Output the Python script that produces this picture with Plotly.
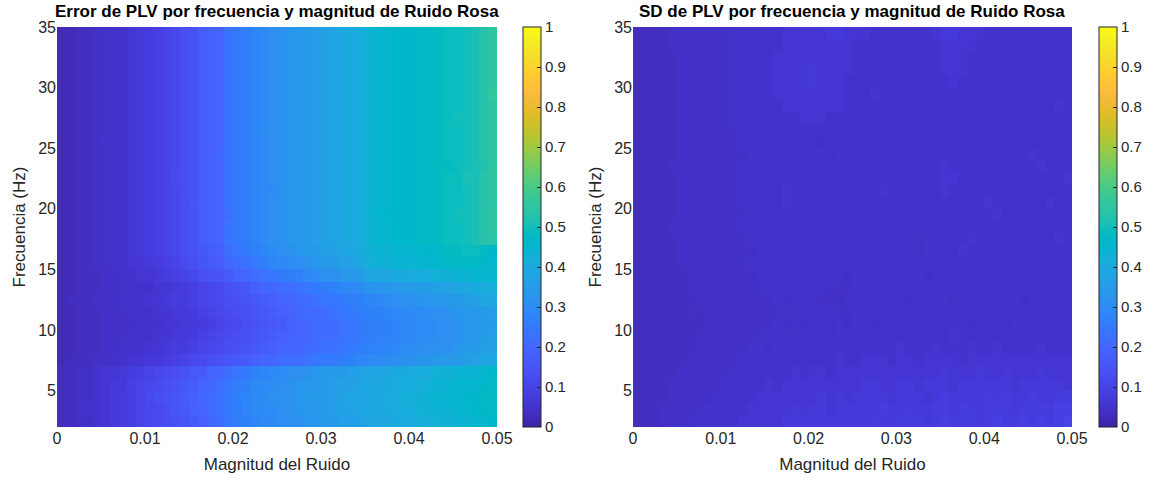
import plotly.graph_objects as go

# ---------------- data ----------------
noise_edges = [round(i * 0.001, 3) for i in range(51)]      # Magnitud del Ruido (cell edges)
freq_edges = list(range(2, 36))                              # Frecuencia (Hz) (cell edges)
x_tick_vals = [0, 0.01, 0.02, 0.03, 0.04, 0.05]
x_tick_text = ["0", "0.01", "0.02", "0.03", "0.04", "0.05"]
y_tick_vals = [5, 10, 15, 20, 25, 30, 35]
cb_tick_vals = [0, 0.1, 0.2, 0.3, 0.4, 0.5, 0.6, 0.7, 0.8, 0.9, 1]
cb_tick_text = ["0", "0.1", "0.2", "0.3", "0.4", "0.5", "0.6", "0.7", "0.8", "0.9", "1"]

# Error de PLV (x100), rows from 2 Hz (bottom) to 34 Hz (top), 50 noise columns each
error_pct = [
    [3,3,4,4,5,6,7,8,9,10, 11,12,13,14,15,17,18,20,22,24, 26,27,28,29,30,31,31,32,33,33, 34,35,36,36,37,38,39,39,40,41, 41,42,42,43,43,44,44,45,45,46],
    [3,3,4,5,5,6,7,8,9,10, 11,12,13,15,16,18,19,21,23,25, 26,28,29,30,30,31,32,33,33,34, 35,36,37,37,38,39,40,40,41,41, 42,43,43,44,44,45,45,46,46,47],
    [3,3,4,4,5,6,7,8,9,10, 12,13,14,15,17,18,20,21,23,25, 27,28,29,30,31,32,32,33,34,35, 35,36,37,38,38,39,40,41,41,42, 42,43,44,44,45,45,46,46,47,47],
    [3,3,4,4,5,6,7,7,9,10, 11,12,13,14,16,17,19,20,22,24, 26,27,29,30,30,31,32,33,33,34, 35,36,36,37,38,39,39,40,41,41, 42,42,43,44,44,45,45,45,46,47],
    [3,3,4,4,5,6,6,7,8,9, 10,11,12,13,14,16,17,19,20,22, 24,25,27,28,29,30,31,31,32,33, 34,35,35,36,37,38,38,39,40,40, 41,41,42,43,43,44,44,44,45,46],
    [2,3,3,3,4,4,5,5,6,6, 7,7,8,9,10,11,12,13,14,15, 16,17,18,19,20,21,22,22,23,24, 25,25,26,27,28,29,30,30,31,32, 32,33,33,34,34,35,36,37,38,39],
    [2,2,3,3,3,4,4,5,5,5, 6,6,7,8,8,9,10,11,12,13, 14,15,16,17,18,19,20,20,21,22, 23,23,24,25,26,27,28,28,29,30, 30,31,31,32,32,33,34,35,36,37],
    [2,2,3,3,3,4,4,4,5,5, 5,6,6,7,7,8,9,10,11,12, 13,14,15,16,17,18,19,19,20,21, 22,22,23,24,25,26,27,27,28,29, 29,30,30,31,31,32,33,34,35,36],
    [2,2,3,3,3,4,4,4,4,5, 5,5,6,6,7,7,8,9,10,11, 12,13,14,15,16,17,18,19,20,21, 21,22,23,24,25,26,27,27,28,29, 29,30,30,31,31,32,33,34,35,35],
    [2,2,3,3,3,4,4,4,5,5, 5,6,6,7,7,8,9,10,11,12, 13,14,15,16,17,18,19,20,21,21, 22,23,24,25,26,27,27,28,29,29, 30,30,31,31,32,33,34,34,35,36],
    [2,3,3,3,4,4,4,5,5,5, 6,6,7,8,8,9,10,11,12,13, 14,15,16,17,18,19,20,21,22,23, 24,24,25,26,27,28,29,30,31,32, 32,33,33,34,34,35,36,37,38,39],
    [2,2,3,3,3,4,4,4,5,5, 5,6,6,7,8,9,10,11,12,14, 15,16,18,19,20,21,22,23,24,25, 26,27,28,29,30,32,33,33,34,34, 35,35,36,37,37,38,39,40,41,42],
    [2,2,3,3,3,4,4,5,5,6, 6,7,8,9,10,11,13,14,15,17, 19,20,22,23,24,25,26,27,29,30, 31,32,33,34,35,38,39,39,40,40, 41,41,42,43,43,44,44,45,45,45],
    [2,2,3,3,4,4,5,5,6,6, 7,8,9,10,12,13,15,16,17,20, 22,23,25,26,28,29,30,31,32,33, 34,35,36,37,38,42,43,43,44,44, 44,45,45,46,47,47,47,47,46,45],
    [2,2,3,3,4,4,5,5,6,7, 8,9,10,11,13,14,16,17,18,22, 24,25,27,28,30,31,32,33,34,35, 36,37,38,39,40,43,44,44,45,45, 45,46,46,47,48,48,49,49,47,46],
    [2,2,3,3,4,4,5,5,6,7, 8,9,10,11,13,14,17,18,19,23, 25,26,28,29,31,32,33,34,35,36, 37,38,39,40,41,44,45,45,46,46, 46,47,47,48,49,49,50,51,53,54],
    [2,2,3,3,4,4,5,5,6,7, 8,9,10,11,13,14,17,18,19,23, 25,26,28,29,31,32,33,34,35,36, 37,38,39,40,41,44,45,45,46,46, 46,47,47,48,49,49,50,51,53,55],
    [2,2,3,3,4,4,5,5,6,7, 8,9,10,11,13,14,17,18,19,22, 25,26,28,29,31,32,33,34,35,36, 37,38,39,40,41,44,45,46,46,46, 46,47,47,48,49,50,50,51,53,55],
    [2,2,3,3,4,4,5,5,6,7, 8,9,10,11,13,15,17,18,19,23, 25,26,28,29,31,32,33,34,35,36, 37,38,39,40,41,44,45,45,46,46, 46,47,47,48,49,49,50,51,53,54],
    [2,2,3,3,4,4,5,5,6,7, 8,9,10,11,13,14,17,18,19,23, 25,26,28,29,30,32,33,34,35,36, 37,38,39,40,41,44,45,45,46,46, 46,47,47,48,49,49,50,51,53,55],
    [2,2,3,3,4,4,5,5,6,7, 8,9,10,12,13,14,17,18,19,23, 25,26,28,29,31,32,33,34,35,36, 37,38,39,40,41,44,45,45,46,46, 46,47,47,48,49,49,51,51,53,55],
    [2,2,3,3,4,4,5,5,6,7, 8,9,10,11,13,14,17,18,19,23, 25,26,28,29,31,32,33,34,35,36, 37,38,39,40,41,44,45,45,46,46, 46,47,47,48,48,49,50,51,52,55],
    [2,2,3,3,4,4,5,5,6,7, 8,9,10,11,13,14,17,18,20,23, 25,26,28,29,31,32,33,34,35,36, 37,38,39,40,41,44,45,45,46,46, 46,47,47,48,49,49,50,51,53,55],
    [2,2,3,3,4,5,5,5,6,7, 8,9,10,11,13,14,17,18,19,23, 25,26,28,29,31,32,33,34,35,36, 37,38,39,40,41,44,45,45,46,46, 46,47,47,48,49,49,50,51,53,55],
    [2,2,3,3,4,4,5,5,6,7, 8,9,10,11,13,14,17,18,19,23, 25,26,28,30,31,32,33,34,35,36, 37,38,39,40,41,44,45,45,46,46, 46,47,47,48,49,49,50,51,53,55],
    [2,2,3,3,4,4,5,5,6,7, 8,9,10,11,13,14,17,18,19,23, 25,26,28,29,31,32,33,34,35,36, 37,38,39,40,41,44,45,45,46,46, 46,47,47,48,49,50,50,51,53,55],
    [2,2,3,3,4,4,5,5,6,7, 8,9,10,11,13,14,17,18,19,23, 25,26,28,29,31,32,33,34,35,36, 37,38,39,40,41,44,45,45,46,46, 46,47,47,48,49,49,50,51,53,55],
    [2,2,3,3,4,4,5,5,6,7, 8,9,10,11,13,14,17,18,19,23, 25,26,28,29,31,32,33,34,35,36, 37,38,39,40,41,44,45,45,46,46, 46,47,47,48,49,49,50,51,53,56],
    [2,2,3,3,4,4,5,5,6,7, 8,9,10,11,13,14,17,18,19,23, 25,26,28,29,31,32,33,34,35,36, 37,38,39,40,41,44,45,45,46,46, 46,47,47,48,49,49,50,51,53,55],
    [2,2,3,3,4,4,5,5,6,7, 8,9,10,11,13,14,17,18,19,23, 25,26,28,29,31,32,33,34,35,36, 37,38,39,40,41,44,45,45,46,46, 46,47,47,48,49,49,50,51,53,55],
    [2,2,3,3,4,4,5,5,6,7, 8,9,10,11,13,14,17,18,19,23, 25,26,28,29,31,32,33,34,35,36, 37,38,39,40,41,44,45,45,46,46, 46,47,47,48,49,49,50,51,53,55],
    [2,2,3,3,4,4,5,5,6,7, 8,9,10,11,13,14,17,18,19,23, 25,26,28,29,31,32,33,34,35,36, 37,38,39,40,41,44,45,45,46,46, 46,47,47,48,49,49,50,51,53,55],
    [2,2,3,3,4,4,5,5,6,7, 8,9,10,11,13,14,17,18,19,23, 25,26,28,29,31,32,33,34,35,36, 37,38,39,40,41,44,45,45,46,46, 46,47,47,48,49,49,50,51,53,55],
]

# SD de PLV (x100), rows from 2 Hz (bottom) to 34 Hz (top)
sd_pct = [
    [3,3,3,4,4,4,4,5,5,5, 5,5,6,6,6,6,6,7,7,7, 7,7,7,7,7,7,7,8,7,7, 8,8,8,7,8,9,8,8,8,7, 8,9,8,8,9,8,9,8,9,10],
    [3,3,3,4,4,4,4,4,5,5, 5,5,5,6,6,6,6,6,7,6, 7,7,6,7,7,7,7,7,8,7, 7,8,7,7,8,8,7,8,8,7, 8,8,8,7,8,8,8,8,9,9],
    [3,3,3,3,4,4,4,4,4,5, 5,5,5,5,6,6,6,6,6,6, 6,7,6,7,6,7,7,7,7,6, 7,7,7,6,7,8,7,7,7,7, 8,7,8,7,7,8,7,7,8,8],
    [3,3,3,3,4,4,4,4,4,4, 5,5,5,5,5,6,5,6,6,6, 6,6,6,6,6,6,7,7,6,6, 7,7,6,7,7,7,6,7,7,7, 7,7,7,6,7,7,7,7,7,6],
    [3,3,3,3,3,4,4,4,4,4, 4,5,5,5,5,5,5,5,6,5, 6,6,5,6,6,6,6,6,6,6, 6,6,6,6,6,7,6,6,6,7, 6,6,7,6,6,6,7,6,6,6],
    [3,3,3,3,3,3,4,4,4,4, 4,4,5,5,5,5,5,5,5,5, 5,5,5,6,5,5,6,6,6,5, 6,6,5,6,6,6,6,5,6,6, 6,6,6,6,6,6,6,6,6,6],
    [3,3,3,3,3,3,3,4,4,4, 4,4,4,5,5,4,5,5,5,5, 5,5,5,5,5,5,5,5,5,5, 6,5,5,5,6,5,5,5,6,5, 5,6,5,5,5,5,6,5,5,5],
    [3,3,3,3,3,3,3,4,4,4, 4,4,4,4,4,5,5,5,4,5, 5,5,4,5,5,5,5,5,5,5, 5,5,5,5,5,5,6,5,5,5, 5,5,5,5,5,5,5,5,5,5],
    [3,3,3,3,3,3,3,3,4,4, 4,4,4,4,4,4,5,4,5,4, 5,5,4,5,4,5,5,4,5,5, 5,5,5,5,5,5,5,5,4,5, 5,5,4,5,5,5,5,5,5,5],
    [3,3,3,3,3,3,4,3,4,4, 4,4,4,4,4,4,4,5,4,5, 4,5,5,4,4,5,5,5,5,4, 5,5,5,4,5,5,5,5,5,5, 4,5,5,4,5,5,5,5,5,5],
    [3,3,3,3,3,3,3,4,4,4, 4,4,4,4,4,4,5,4,5,5, 5,4,4,4,5,5,5,5,5,5, 5,4,5,5,5,5,4,5,5,5, 5,5,5,5,4,5,5,5,5,5],
    [3,3,3,3,3,3,4,4,4,4, 4,4,4,4,4,5,4,5,5,5, 5,5,4,4,4,5,5,5,5,5, 5,5,4,5,5,5,5,5,5,5, 5,5,5,5,5,5,5,5,5,5],
    [3,3,3,3,3,3,4,4,4,4, 4,4,4,4,5,5,5,5,5,5, 5,5,5,5,4,5,5,5,5,5, 5,5,5,4,5,5,5,5,5,5, 5,5,5,5,5,5,5,5,5,5],
    [3,3,3,3,3,4,4,4,4,4, 4,4,4,5,5,5,5,5,5,5, 5,5,5,5,5,5,5,5,5,5, 5,5,5,5,5,5,5,5,5,5, 5,5,5,4,5,5,5,5,5,5],
    [3,3,3,3,3,4,4,4,4,4, 4,4,4,4,5,5,5,5,5,5, 5,5,5,5,5,5,5,5,5,5, 5,5,4,5,5,5,5,6,5,5, 5,5,5,5,5,5,5,5,5,5],
    [3,3,3,3,3,4,4,4,4,4, 4,4,4,5,5,5,5,5,5,5, 5,5,5,5,5,5,5,5,5,5, 5,5,4,5,5,5,5,5,6,5, 5,5,5,5,5,5,5,5,6,5],
    [3,3,3,3,4,4,4,4,4,4, 4,4,5,5,5,5,5,5,5,5, 5,5,5,5,5,5,5,5,5,5, 5,5,5,5,5,5,5,5,5,5, 5,5,5,5,5,5,5,5,5,5],
    [3,3,3,3,3,4,4,4,4,4, 4,4,4,5,5,5,5,5,5,5, 5,5,5,5,5,5,5,5,5,5, 5,5,5,5,5,5,5,5,5,5, 5,6,5,5,5,5,5,5,5,5],
    [3,3,3,3,3,4,4,4,4,4, 4,4,5,5,5,5,5,6,5,5, 5,5,5,5,5,5,5,5,5,5, 5,5,5,5,5,5,5,5,5,5, 6,5,5,5,5,5,5,6,5,5],
    [3,3,3,3,3,4,4,4,4,4, 4,4,5,5,5,5,5,6,5,5, 5,5,5,5,5,5,5,5,6,5, 5,5,5,5,5,6,5,5,5,5, 5,5,5,5,5,5,5,5,5,5],
    [3,3,3,3,3,4,4,4,4,4, 4,4,5,5,5,5,5,5,5,5, 5,5,5,5,5,5,5,5,5,5, 5,5,5,5,5,6,6,5,5,5, 5,5,5,5,5,5,5,5,5,6],
    [3,3,3,3,4,4,4,4,4,4, 4,4,5,5,5,5,5,5,5,5, 5,5,5,5,5,5,5,5,5,5, 5,5,5,5,5,6,5,5,5,5, 5,5,5,5,5,5,6,5,5,5],
    [3,3,3,3,3,4,4,4,4,4, 4,4,4,5,5,5,5,5,5,5, 5,5,4,5,5,5,5,5,5,5, 5,5,5,5,5,5,5,5,5,5, 5,5,5,5,5,6,5,5,5,5],
    [3,3,3,3,3,4,4,4,4,4, 4,4,5,5,5,5,5,5,5,5, 5,4,5,5,5,5,5,5,5,5, 5,5,5,5,5,5,5,5,5,5, 5,5,5,5,5,5,5,5,5,5],
    [3,3,3,3,3,4,4,4,4,4, 4,4,5,5,5,5,5,5,5,5, 5,5,5,5,5,5,5,5,5,5, 5,5,5,5,5,5,5,5,5,5, 5,5,5,5,5,5,5,5,5,5],
    [3,3,3,3,3,4,4,4,4,4, 4,5,5,5,5,5,5,5,5,6, 6,6,5,5,5,5,5,5,5,5, 5,5,5,5,5,5,5,5,5,5, 5,5,5,5,5,5,5,5,5,5],
    [3,3,3,3,3,4,4,4,4,4, 4,5,5,5,5,5,5,6,6,6, 6,6,6,6,5,5,5,5,5,5, 5,5,5,5,5,5,5,5,5,5, 5,5,5,5,5,5,5,5,6,5],
    [3,3,3,3,3,4,4,4,4,4, 4,5,5,5,5,5,6,6,6,6, 6,6,6,6,5,5,5,6,5,5, 5,5,5,5,5,5,5,5,5,5, 5,5,5,5,5,5,5,5,5,5],
    [3,3,3,3,3,4,4,4,4,4, 4,5,5,5,5,5,6,6,6,6, 7,6,6,6,5,5,5,5,5,5, 5,5,5,5,5,5,6,5,5,5, 5,5,5,5,5,5,5,5,5,5],
    [3,3,3,3,3,4,4,4,4,4, 4,5,5,5,5,5,6,6,6,6, 7,6,6,6,6,5,5,5,5,5, 5,5,5,5,5,6,6,6,5,5, 5,5,5,5,5,5,5,5,5,5],
    [3,3,3,3,3,4,4,4,4,4, 4,5,5,5,5,5,6,6,6,6, 6,6,6,6,6,5,5,5,5,5, 5,5,5,5,5,6,6,6,5,5, 5,5,5,5,5,5,5,5,5,5],
    [3,3,3,3,4,4,4,4,4,4, 4,5,5,5,5,5,5,6,6,6, 6,6,6,6,6,5,5,5,5,5, 5,5,5,5,5,6,6,6,6,5, 5,5,5,5,5,5,5,5,5,5],
    [3,3,3,3,4,4,4,4,4,4, 4,5,5,5,5,5,5,6,6,6, 6,6,7,7,6,6,6,5,5,5, 5,5,5,5,6,7,7,6,6,6, 5,5,5,5,5,5,5,5,5,5],
]

titles = ["Error de PLV por frecuencia y magnitud de Ruido Rosa",
          "SD de PLV por frecuencia y magnitud de Ruido Rosa"]
x_title = "Magnitud del Ruido"
y_title = "Frecuencia (Hz)"

# ---------------- colormap (parula) ----------------
parula_rgb = [
    (0.2422, 0.1504, 0.6603), (0.2504, 0.1650, 0.7076), (0.2578, 0.1818, 0.7511), (0.2647, 0.1978, 0.7952),
    (0.2706, 0.2147, 0.8364), (0.2751, 0.2342, 0.8710), (0.2783, 0.2559, 0.8991), (0.2803, 0.2782, 0.9221),
    (0.2813, 0.3006, 0.9414), (0.2810, 0.3228, 0.9579), (0.2795, 0.3447, 0.9717), (0.2760, 0.3667, 0.9829),
    (0.2699, 0.3892, 0.9906), (0.2602, 0.4123, 0.9952), (0.2440, 0.4358, 0.9988), (0.2206, 0.4603, 0.9973),
    (0.1963, 0.4847, 0.9892), (0.1834, 0.5074, 0.9798), (0.1786, 0.5289, 0.9682), (0.1764, 0.5499, 0.9520),
    (0.1687, 0.5703, 0.9359), (0.1540, 0.5902, 0.9218), (0.1460, 0.6091, 0.9079), (0.1380, 0.6276, 0.8973),
    (0.1248, 0.6459, 0.8883), (0.1113, 0.6635, 0.8763), (0.0952, 0.6798, 0.8598), (0.0689, 0.6948, 0.8394),
    (0.0297, 0.7082, 0.8163), (0.0036, 0.7203, 0.7917), (0.0067, 0.7312, 0.7660), (0.0433, 0.7411, 0.7394),
    (0.0964, 0.7500, 0.7120), (0.1408, 0.7584, 0.6842), (0.1717, 0.7670, 0.6554), (0.1938, 0.7758, 0.6251),
    (0.2161, 0.7843, 0.5923), (0.2470, 0.7918, 0.5567), (0.2906, 0.7973, 0.5188), (0.3406, 0.8008, 0.4789),
    (0.3909, 0.8029, 0.4354), (0.4456, 0.8024, 0.3909), (0.5044, 0.7993, 0.3480), (0.5616, 0.7942, 0.3045),
    (0.6174, 0.7876, 0.2612), (0.6720, 0.7793, 0.2227), (0.7242, 0.7698, 0.1910), (0.7738, 0.7598, 0.1646),
    (0.8203, 0.7498, 0.1535), (0.8634, 0.7406, 0.1596), (0.9035, 0.7330, 0.1774), (0.9393, 0.7288, 0.2100),
    (0.9728, 0.7298, 0.2394), (0.9956, 0.7434, 0.2371), (0.9970, 0.7659, 0.2199), (0.9952, 0.7893, 0.2028),
    (0.9892, 0.8136, 0.1885), (0.9786, 0.8386, 0.1766), (0.9676, 0.8639, 0.1643), (0.9610, 0.8890, 0.1537),
    (0.9597, 0.9135, 0.1423), (0.9628, 0.9373, 0.1265), (0.9691, 0.9606, 0.1064), (0.9769, 0.9839, 0.0805),
]
n = len(parula_rgb)
parula = [[i / (n - 1), "rgb(%d,%d,%d)" % (round(r * 255), round(g * 255), round(b * 255))]
          for i, (r, g, b) in enumerate(parula_rgb)]

FONT = "Liberation Sans, Arial, Helvetica, sans-serif"
TXT = "#262626"
W, H = 1156, 478

# pixel geometry
plots = [(57, 497, 523), (633, 1072, 1099)]   # (left, right, colorbar-left) in px
top_px, bot_px = 27, 427
y0 = 1 - bot_px / H
y1 = 1 - top_px / H

fig = go.Figure()
layout = dict(width=W, height=H, margin=dict(l=0, r=0, t=0, b=0, autoexpand=False),
              paper_bgcolor="white", plot_bgcolor="white", showlegend=False,
              font=dict(family=FONT, color=TXT, size=16), annotations=[])

for k, (data, title) in enumerate(zip([error_pct, sd_pct], titles)):
    lpx, rpx, cbpx = plots[k]
    xa = "x" if k == 0 else "x2"
    ya = "y" if k == 0 else "y2"
    z = [[v / 100 for v in row] for row in data]
    fig.add_trace(go.Heatmap(
        x=noise_edges, y=freq_edges, z=z, zmin=0, zmax=1, colorscale=parula,
        xaxis=xa, yaxis=ya, hoverinfo="skip",
        colorbar=dict(
            x=cbpx / W, xanchor="left", xpad=0, ypad=0,
            y=(y0 + y1) / 2, yanchor="middle", len=(y1 - y0), lenmode="fraction",
            thickness=18, thicknessmode="pixels",
            outlinecolor=TXT, outlinewidth=1,
            tickvals=cb_tick_vals, ticktext=cb_tick_text,
            ticks="inside", ticklen=4, tickcolor=TXT, tickwidth=1,
            tickfont=dict(family=FONT, size=15, color=TXT),
        ),
    ))
    xkey = "xaxis" if k == 0 else "xaxis2"
    ykey = "yaxis" if k == 0 else "yaxis2"
    layout[xkey] = dict(domain=[lpx / W, rpx / W], anchor=ya, range=[0, 0.05],
                        tickvals=x_tick_vals, ticktext=x_tick_text, ticks="",
                        showgrid=False, zeroline=False, showline=False, automargin=False,
                        tickfont=dict(size=16, color=TXT, family=FONT),
                        title=dict(text=x_title, font=dict(size=17, color=TXT, family=FONT), standoff=12))
    layout[ykey] = dict(domain=[y0, y1], anchor=xa, range=[2, 35],
                        tickvals=y_tick_vals, ticks="",
                        showgrid=False, zeroline=False, showline=False, automargin=False,
                        tickfont=dict(size=16, color=TXT, family=FONT),
                        title=dict(text=y_title, font=dict(size=17, color=TXT, family=FONT), standoff=8))
    layout["annotations"].append(dict(
        text="<b>%s</b>" % title, x=(lpx + rpx) / 2 / W, y=1 - 12 / H, xref="paper", yref="paper",
        xanchor="center", yanchor="middle", showarrow=False,
        font=dict(family=FONT, size=17, color="black")))

fig.update_layout(**layout)
fig.write_html("out.html", config={"displayModeBar": False},
               post_script="document.body.style.margin='0';")
